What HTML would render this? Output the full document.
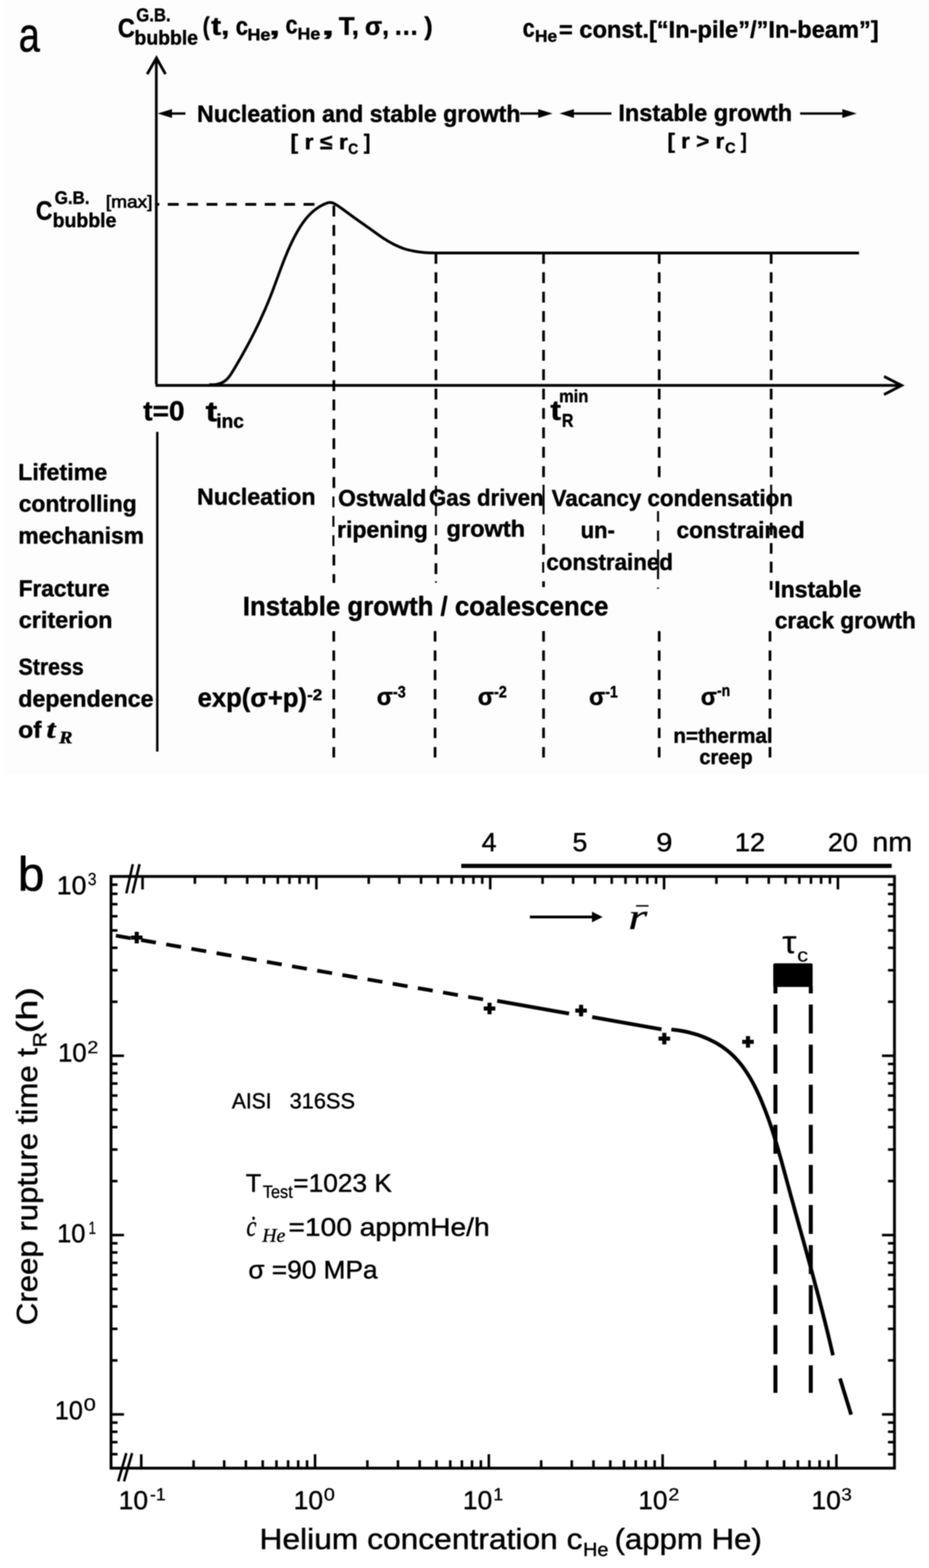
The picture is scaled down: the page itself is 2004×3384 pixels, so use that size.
<!DOCTYPE html>
<html lang="en">
<head>
<meta charset="utf-8">
<title>Helium bubble growth and creep rupture time</title>
<style>
html,body{margin:0;padding:0;background:#fff;}
body{width:2004px;height:3384px;overflow:hidden;}
svg{display:block;font-family:"Liberation Sans",sans-serif;}
text{white-space:pre;stroke:#000;stroke-width:0.9px;stroke-linejoin:round;}
text.n{stroke:none;}
</style>
</head>
<body>
<svg width="2004" height="3384" viewBox="0 0 2004 3384" text-rendering="geometricPrecision">
<rect width="2004" height="3384" fill="#fff"/>
<g id="fig" filter="url(#soft)">
<g id="panel-a">
<rect x="8" y="0" width="1996" height="1672" fill="#fdfdfd"/>
<g id="guides">
<line x1="337" y1="441" x2="700" y2="441" stroke="#000" stroke-width="5.8" stroke-dasharray="23.5 18.35" stroke-dashoffset="17.0"/>
<line x1="720.2" y1="443.7" x2="720.2" y2="467.2" stroke="#000" stroke-width="5.8"/>
<line x1="720.2" y1="485.6" x2="720.2" y2="509.1" stroke="#000" stroke-width="5.8"/>
<line x1="720.2" y1="527.4" x2="720.2" y2="550.9" stroke="#000" stroke-width="5.8"/>
<line x1="720.2" y1="569.2" x2="720.2" y2="592.8" stroke="#000" stroke-width="5.8"/>
<line x1="720.2" y1="611.1" x2="720.2" y2="634.6" stroke="#000" stroke-width="5.8"/>
<line x1="720.2" y1="653.0" x2="720.2" y2="676.5" stroke="#000" stroke-width="5.8"/>
<line x1="720.2" y1="694.8" x2="720.2" y2="718.3" stroke="#000" stroke-width="5.8"/>
<line x1="720.2" y1="736.6" x2="720.2" y2="760.1" stroke="#000" stroke-width="5.8"/>
<line x1="720.2" y1="778.5" x2="720.2" y2="802.0" stroke="#000" stroke-width="5.8"/>
<line x1="720.2" y1="820.4" x2="720.2" y2="843.9" stroke="#000" stroke-width="5.8"/>
<line x1="720.2" y1="862.2" x2="720.2" y2="885.7" stroke="#000" stroke-width="5.8"/>
<line x1="720.2" y1="904.0" x2="720.2" y2="927.5" stroke="#000" stroke-width="5.8"/>
<line x1="720.2" y1="945.9" x2="720.2" y2="969.4" stroke="#000" stroke-width="5.8"/>
<line x1="720.2" y1="987.8" x2="720.2" y2="1011.2" stroke="#000" stroke-width="5.8"/>
<line x1="720.2" y1="1029.6" x2="720.2" y2="1053.1" stroke="#000" stroke-width="5.8"/>
<line x1="940.4" y1="545.8" x2="940.4" y2="569.3" stroke="#000" stroke-width="5.8"/>
<line x1="940.4" y1="587.6" x2="940.4" y2="611.1" stroke="#000" stroke-width="5.8"/>
<line x1="940.4" y1="629.5" x2="940.4" y2="653.0" stroke="#000" stroke-width="5.8"/>
<line x1="940.4" y1="671.3" x2="940.4" y2="694.8" stroke="#000" stroke-width="5.8"/>
<line x1="940.4" y1="713.2" x2="940.4" y2="736.7" stroke="#000" stroke-width="5.8"/>
<line x1="940.4" y1="755.0" x2="940.4" y2="778.5" stroke="#000" stroke-width="5.8"/>
<line x1="940.4" y1="796.9" x2="940.4" y2="820.4" stroke="#000" stroke-width="5.8"/>
<line x1="940.4" y1="838.8" x2="940.4" y2="862.2" stroke="#000" stroke-width="5.8"/>
<line x1="940.4" y1="880.6" x2="940.4" y2="904.1" stroke="#000" stroke-width="5.8"/>
<line x1="940.4" y1="922.5" x2="940.4" y2="946.0" stroke="#000" stroke-width="5.8"/>
<line x1="940.4" y1="964.3" x2="940.4" y2="987.8" stroke="#000" stroke-width="5.8"/>
<line x1="940.4" y1="1006.1" x2="940.4" y2="1029.7" stroke="#000" stroke-width="5.8"/>
<line x1="1172.5" y1="545.8" x2="1172.5" y2="569.3" stroke="#000" stroke-width="5.8"/>
<line x1="1172.5" y1="587.6" x2="1172.5" y2="611.1" stroke="#000" stroke-width="5.8"/>
<line x1="1172.5" y1="629.5" x2="1172.5" y2="653.0" stroke="#000" stroke-width="5.8"/>
<line x1="1172.5" y1="671.3" x2="1172.5" y2="694.8" stroke="#000" stroke-width="5.8"/>
<line x1="1172.5" y1="713.2" x2="1172.5" y2="736.7" stroke="#000" stroke-width="5.8"/>
<line x1="1172.5" y1="755.0" x2="1172.5" y2="778.5" stroke="#000" stroke-width="5.8"/>
<line x1="1172.5" y1="796.9" x2="1172.5" y2="820.4" stroke="#000" stroke-width="5.8"/>
<line x1="1172.5" y1="838.8" x2="1172.5" y2="862.2" stroke="#000" stroke-width="5.8"/>
<line x1="1172.5" y1="880.6" x2="1172.5" y2="904.1" stroke="#000" stroke-width="5.8"/>
<line x1="1172.5" y1="922.5" x2="1172.5" y2="946.0" stroke="#000" stroke-width="5.8"/>
<line x1="1172.5" y1="964.3" x2="1172.5" y2="987.8" stroke="#000" stroke-width="5.8"/>
<line x1="1172.5" y1="1006.1" x2="1172.5" y2="1029.7" stroke="#000" stroke-width="5.8"/>
<line x1="1422" y1="545.8" x2="1422" y2="569.3" stroke="#000" stroke-width="5.8"/>
<line x1="1422" y1="587.6" x2="1422" y2="611.1" stroke="#000" stroke-width="5.8"/>
<line x1="1422" y1="629.5" x2="1422" y2="653.0" stroke="#000" stroke-width="5.8"/>
<line x1="1422" y1="671.3" x2="1422" y2="694.8" stroke="#000" stroke-width="5.8"/>
<line x1="1422" y1="713.2" x2="1422" y2="736.7" stroke="#000" stroke-width="5.8"/>
<line x1="1422" y1="755.0" x2="1422" y2="778.5" stroke="#000" stroke-width="5.8"/>
<line x1="1422" y1="796.9" x2="1422" y2="820.4" stroke="#000" stroke-width="5.8"/>
<line x1="1422" y1="838.8" x2="1422" y2="862.2" stroke="#000" stroke-width="5.8"/>
<line x1="1422" y1="880.6" x2="1422" y2="904.1" stroke="#000" stroke-width="5.8"/>
<line x1="1422" y1="922.5" x2="1422" y2="946.0" stroke="#000" stroke-width="5.8"/>
<line x1="1422" y1="964.3" x2="1422" y2="987.8" stroke="#000" stroke-width="5.8"/>
<line x1="1422" y1="1006.1" x2="1422" y2="1029.7" stroke="#000" stroke-width="5.8"/>
<line x1="1663.5" y1="545.8" x2="1663.5" y2="569.3" stroke="#000" stroke-width="5.8"/>
<line x1="1663.5" y1="587.6" x2="1663.5" y2="611.1" stroke="#000" stroke-width="5.8"/>
<line x1="1663.5" y1="629.5" x2="1663.5" y2="653.0" stroke="#000" stroke-width="5.8"/>
<line x1="1663.5" y1="671.3" x2="1663.5" y2="694.8" stroke="#000" stroke-width="5.8"/>
<line x1="1663.5" y1="713.2" x2="1663.5" y2="736.7" stroke="#000" stroke-width="5.8"/>
<line x1="1663.5" y1="755.0" x2="1663.5" y2="778.5" stroke="#000" stroke-width="5.8"/>
<line x1="1663.5" y1="796.9" x2="1663.5" y2="820.4" stroke="#000" stroke-width="5.8"/>
<line x1="1663.5" y1="838.8" x2="1663.5" y2="862.2" stroke="#000" stroke-width="5.8"/>
<line x1="1663.5" y1="880.6" x2="1663.5" y2="904.1" stroke="#000" stroke-width="5.8"/>
<line x1="1663.5" y1="922.5" x2="1663.5" y2="946.0" stroke="#000" stroke-width="5.8"/>
<line x1="1663.5" y1="964.3" x2="1663.5" y2="987.8" stroke="#000" stroke-width="5.8"/>
<line x1="1663.5" y1="1006.1" x2="1663.5" y2="1029.7" stroke="#000" stroke-width="5.8"/>
<line x1="719.2" y1="1071.4" x2="719.2" y2="1095" stroke="#000" stroke-width="4.4"/>
<line x1="719.2" y1="1113.3" x2="719.2" y2="1136.8" stroke="#000" stroke-width="4.4"/>
<line x1="719.2" y1="1155" x2="719.2" y2="1178.6" stroke="#000" stroke-width="4.4"/>
<line x1="720.2" y1="1197" x2="720.2" y2="1220.5" stroke="#000" stroke-width="5.8"/>
<line x1="720.2" y1="1239" x2="720.2" y2="1258" stroke="#000" stroke-width="5.8"/>
<line x1="940.4" y1="1048" x2="940.4" y2="1071.5" stroke="#000" stroke-width="4.4"/>
<line x1="940.4" y1="1090" x2="940.4" y2="1113.5" stroke="#000" stroke-width="4.4"/>
<line x1="940.4" y1="1131.8" x2="940.4" y2="1155.3" stroke="#000" stroke-width="4.4"/>
<line x1="940.4" y1="1173.6" x2="940.4" y2="1197" stroke="#000" stroke-width="5.8"/>
<line x1="940.4" y1="1215.5" x2="940.4" y2="1239" stroke="#000" stroke-width="5.8"/>
<line x1="940.4" y1="1254.5" x2="940.4" y2="1257.5" stroke="#000" stroke-width="4.4"/>
<line x1="1172.5" y1="1046" x2="1172.5" y2="1110" stroke="#000" stroke-width="4.4"/>
<line x1="1172.5" y1="1131.8" x2="1172.5" y2="1155.3" stroke="#000" stroke-width="4.4"/>
<line x1="1172.5" y1="1173.6" x2="1172.5" y2="1197" stroke="#000" stroke-width="5.8"/>
<line x1="1171.7" y1="1213" x2="1171.7" y2="1236" stroke="#000" stroke-width="4.4"/>
<line x1="1172.5" y1="1254.5" x2="1172.5" y2="1267" stroke="#000" stroke-width="5.8"/>
<line x1="1419.5" y1="1103" x2="1419.5" y2="1126" stroke="#000" stroke-width="4.4"/>
<line x1="1419.5" y1="1145" x2="1419.5" y2="1168" stroke="#000" stroke-width="4.4"/>
<line x1="1419.5" y1="1186" x2="1419.5" y2="1250" stroke="#000" stroke-width="4.4"/>
<line x1="1419.5" y1="1268" x2="1419.5" y2="1270.5" stroke="#000" stroke-width="4.4"/>
<line x1="1663.5" y1="1046" x2="1663.5" y2="1110" stroke="#000" stroke-width="4.4"/>
<line x1="1663.5" y1="1128" x2="1663.5" y2="1155" stroke="#000" stroke-width="5.8"/>
<line x1="1663.5" y1="1172" x2="1663.5" y2="1195" stroke="#000" stroke-width="5.8"/>
<line x1="1663.5" y1="1212" x2="1663.5" y2="1236" stroke="#000" stroke-width="5.8"/>
<line x1="1663.5" y1="1254" x2="1663.5" y2="1273" stroke="#000" stroke-width="5.8"/>
<line x1="720" y1="1362" x2="720" y2="1635" stroke="#000" stroke-width="5.8" stroke-dasharray="22.5 19.2"/>
<line x1="938.5" y1="1362" x2="938.5" y2="1635" stroke="#000" stroke-width="5.8" stroke-dasharray="22.5 19.2"/>
<line x1="1172.5" y1="1362" x2="1172.5" y2="1635" stroke="#000" stroke-width="5.8" stroke-dasharray="22.5 19.2"/>
<line x1="1422" y1="1362" x2="1422" y2="1635" stroke="#000" stroke-width="5.8" stroke-dasharray="22.5 19.2"/>
<line x1="1661" y1="1362" x2="1661" y2="1635" stroke="#000" stroke-width="5.8" stroke-dasharray="22.5 19.2"/>
</g>
<g id="axes-a">
<line x1="337.2" y1="127" x2="337.2" y2="829" stroke="#000" stroke-width="5.8"/>
<path d="M317.5 160 L337.5 125 L357 160" fill="none" stroke="#000" stroke-width="6" stroke-linejoin="miter"/>
<line x1="335.5" y1="831.8" x2="1944" y2="831.8" stroke="#000" stroke-width="6"/>
<path d="M1907 812.5 L1945 831.8 L1907 851.5" fill="none" stroke="#000" stroke-width="6" stroke-linejoin="miter"/>
<line x1="339.3" y1="932" x2="339.3" y2="1622" stroke="#000" stroke-width="5.2"/>
</g>
<path d="M451.5 830.2 C453.7 830.1 460.7 830.5 465.1 829.9 C469.4 829.3 473.8 828.2 477.6 826.6 C481.3 825.0 484.6 822.7 487.7 820.1 C490.7 817.5 493.2 814.3 495.7 811.1 C498.1 807.9 500.3 804.2 502.5 800.7 C504.7 797.2 506.7 793.5 508.9 789.9 C511.0 786.3 513.1 782.7 515.2 779.1 C517.3 775.5 519.4 771.8 521.4 768.2 C523.5 764.5 525.5 760.9 527.5 757.2 C529.5 753.6 531.5 749.9 533.5 746.2 C535.5 742.5 537.5 738.8 539.4 735.1 C541.3 731.4 543.3 727.7 545.2 724.0 C547.0 720.3 548.9 716.5 550.8 712.8 C552.6 709.0 554.5 705.3 556.3 701.5 C558.1 697.8 559.9 694.0 561.6 690.2 C563.4 686.4 565.1 682.6 566.8 678.8 C568.5 675.0 570.2 671.2 571.9 667.4 C573.5 663.6 575.2 659.7 576.8 655.9 C578.4 652.1 579.9 648.2 581.5 644.3 C583.0 640.5 584.6 636.6 586.1 632.7 C587.6 628.9 589.0 625.0 590.5 621.1 C591.9 617.2 593.4 613.3 594.8 609.4 C596.2 605.5 597.7 601.6 599.1 597.7 C600.5 593.8 602.0 589.9 603.4 586.0 C604.8 582.1 606.3 578.2 607.8 574.3 C609.2 570.4 610.7 566.5 612.2 562.6 C613.8 558.8 615.3 554.9 616.9 551.1 C618.5 547.2 620.1 543.4 621.7 539.5 C623.4 535.7 625.1 531.9 626.9 528.1 C628.6 524.4 630.4 520.6 632.3 516.8 C634.2 513.1 636.1 509.4 638.1 505.7 C640.1 502.0 642.2 498.3 644.4 494.7 C646.5 491.1 648.8 487.5 651.1 484.1 C653.5 480.6 655.9 477.2 658.5 473.9 C661.1 470.7 663.8 467.5 666.6 464.5 C669.5 461.5 672.4 458.7 675.5 456.0 C678.7 453.3 681.9 450.8 685.4 448.5 C688.8 446.2 692.4 444.1 696.2 442.3 C700.0 440.4 705.0 438.3 708.1 437.4 C711.2 436.6 712.9 437.0 715.0 437.3 C717.1 437.6 718.0 437.9 721.0 439.5 C724.0 441.1 725.5 441.8 733.0 447.0 C740.5 452.2 754.5 462.8 766.0 471.0 C777.5 479.2 791.8 489.2 802.0 496.5 C812.2 503.8 819.7 509.5 827.5 514.6 C835.3 519.7 841.8 523.4 849.0 527.0 C856.2 530.6 863.7 534.0 871.0 536.5 C878.3 539.0 885.7 540.6 893.0 542.0 C900.3 543.4 907.2 544.3 915.0 545.0 C922.8 545.7 935.8 545.8 940.0 546.0 L1853 546" fill="none" stroke="#000" stroke-width="6" stroke-linejoin="round"/>
<line x1="400" y1="245" x2="361.7" y2="245" stroke="#000" stroke-width="5"/>
<polygon points="340,245 371,235.5 371,254.5" fill="#000"/>
<line x1="1122" y1="245" x2="1170.3" y2="245" stroke="#000" stroke-width="5"/>
<polygon points="1192,245 1161,235.5 1161,254.5" fill="#000"/>
<line x1="1319" y1="245" x2="1228.7" y2="245" stroke="#000" stroke-width="5"/>
<polygon points="1207,245 1238,235.5 1238,254.5" fill="#000"/>
<line x1="1726" y1="245" x2="1826.3" y2="245" stroke="#000" stroke-width="5"/>
<polygon points="1848,245 1817,235.5 1817,254.5" fill="#000"/>
<g id="text-a">
<text transform="translate(40.50 111.00) scale(0.7840 1.0000)" font-size="104.16" style="stroke-width:1.2px">a</text>
<text transform="translate(254.37 80.00) scale(0.8912 1.0000)" font-size="57" font-weight="bold">C</text>
<text transform="translate(293.96 46.00) scale(0.9014 1.0000)" font-size="40" font-weight="bold">G.B.</text>
<text transform="translate(290.12 95.50) scale(0.9714 1.0000)" font-size="43" font-weight="bold">bubble</text>
<text transform="translate(437.14 75.00) scale(0.8240 1.0000)" font-size="55" font-weight="bold">(</text>
<text transform="translate(455.54 75.00) scale(1.1729 1.0000)" font-size="55" font-weight="bold">t,</text>
<text transform="translate(508.50 75.00) scale(0.8664 1.0000)" font-size="55" font-weight="bold">c</text>
<text transform="translate(533.82 87.00) scale(1.0756 1.0000)" font-size="36" font-weight="bold">He</text>
<text transform="translate(580.31 75.00) scale(1.5831 1.0000)" font-size="55" font-weight="bold">,</text>
<text transform="translate(616.04 72.00) scale(0.8477 1.0000)" font-size="55" font-weight="bold">c</text>
<text transform="translate(641.85 84.50) scale(1.0638 1.0000)" font-size="36" font-weight="bold">He</text>
<text transform="translate(693.31 75.00) scale(1.8429 1.0000)" font-size="55" font-weight="bold">,</text>
<text transform="translate(730.85 75.00) scale(1.0179 1.0000)" font-size="55" font-weight="bold">T,</text>
<text transform="translate(787.24 75.00) scale(0.9842 1.0000)" font-size="55" font-weight="bold">σ,</text>
<text transform="translate(849.50 75.00) scale(0.9760 1.0000)" font-size="55" font-weight="bold">…</text>
<text transform="translate(915.22 75.00) scale(0.9864 1.0000)" font-size="55" font-weight="bold">)</text>
<text transform="translate(1127.54 78.50) scale(0.8477 1.0000)" font-size="55" font-weight="bold">c</text>
<text transform="translate(1153.91 89.50) scale(1.0403 1.0000)" font-size="36" font-weight="bold">He</text>
<text transform="translate(1205.87 81.00) scale(0.9994 1.0000)" font-size="51" font-weight="bold">= const.[“In-pile”/”In-beam”]</text>
<text transform="translate(425.07 262.50) scale(0.9809 1.0000)" font-size="51" font-weight="bold">Nucleation and stable growth</text>
<text transform="translate(1334.02 260.50) scale(0.9944 1.0000)" font-size="51" font-weight="bold">Instable growth</text>
<text transform="translate(626.59 322.00) scale(1.0797 1.0000)" font-size="46" font-weight="bold">[ r ≤ r</text>
<text transform="translate(751.23 332.00) scale(0.9179 1.0000)" font-size="32" font-weight="bold">C</text>
<text transform="translate(784.84 322.00) scale(0.9238 1.0000)" font-size="46" font-weight="bold">]</text>
<text transform="translate(1439.66 320.00) scale(1.0547 1.0000)" font-size="46" font-weight="bold">[ r &gt; r</text>
<text transform="translate(1564.17 330.00) scale(0.9657 1.0000)" font-size="32" font-weight="bold">C</text>
<text transform="translate(1597.89 320.00) scale(0.8412 1.0000)" font-size="46" font-weight="bold">]</text>
<text transform="translate(77.43 474.00) scale(0.8644 1.0000)" font-size="57" font-weight="bold">C</text>
<text transform="translate(117.94 440.00) scale(0.9377 1.0000)" font-size="39" font-weight="bold">G.B.</text>
<text transform="translate(113.61 490.00) scale(0.9751 1.0000)" font-size="43" font-weight="bold">bubble</text>
<text transform="translate(228.25 448.00) scale(1.1117 1.0000)" font-size="37" style="stroke-width:1.4px">[max]</text>
<text transform="translate(309.10 906.50) scale(1.0228 1.0000)" font-size="59" font-weight="bold">t=0</text>
<text transform="translate(443.40 909.00) scale(1.2397 1.0000)" font-size="61" font-weight="bold">t</text>
<text transform="translate(466.51 922.50) scale(0.9846 1.0000)" font-size="42" font-weight="bold">inc</text>
<text transform="translate(1187.19 906.00) scale(1.1462 1.0000)" font-size="60" font-weight="bold">t</text>
<text transform="translate(1206.04 867.50) scale(0.9344 1.0000)" font-size="38" font-weight="bold">min</text>
<text transform="translate(1212.10 921.00) scale(0.8641 1.0000)" font-size="40" font-weight="bold">R</text>
<text transform="translate(39.06 1036.00) scale(1.0028 1.0000)" font-size="50" font-weight="bold">Lifetime</text>
<text transform="translate(40.44 1104.00) scale(0.9849 1.0000)" font-size="50" font-weight="bold">controlling</text>
<text transform="translate(39.62 1173.00) scale(0.9852 1.0000)" font-size="50" font-weight="bold">mechanism</text>
<text transform="translate(40.14 1287.00) scale(0.9796 1.0000)" font-size="50" font-weight="bold">Fracture</text>
<text transform="translate(40.38 1355.00) scale(1.0112 1.0000)" font-size="50" font-weight="bold">criterion</text>
<text transform="translate(40.03 1456.00) scale(0.9187 1.0000)" font-size="50" font-weight="bold">Stress</text>
<text transform="translate(39.40 1525.00) scale(1.0001 1.0000)" font-size="50" font-weight="bold">dependence</text>
<text transform="translate(39.28 1592.00) scale(1.0630 1.0000)" font-size="50" font-weight="bold">of</text>
<text transform="translate(100.30 1592.00) scale(1.2537 1.0000)" font-size="56" font-weight="bold" font-style="italic" font-family='"Liberation Serif", serif'>t</text>
<text transform="translate(127.41 1604.00) scale(1.1358 1.0000)" font-size="38" font-weight="bold" font-style="italic" font-family='"Liberation Serif", serif'>R</text>
<text transform="translate(425.07 1089.00) scale(1.0001 1.0000)" font-size="50" font-weight="bold">Nucleation</text>
<text transform="translate(729.45 1092.00) scale(0.9781 1.0000)" font-size="50" font-weight="bold">Ostwald</text>
<text transform="translate(727.09 1160.00) scale(0.9931 1.0000)" font-size="50" font-weight="bold">ripening</text>
<text transform="translate(925.49 1091.00) scale(0.9560 1.0000)" font-size="50" font-weight="bold">Gas driven</text>
<text transform="translate(963.37 1158.00) scale(1.0156 1.0000)" font-size="50" font-weight="bold">growth</text>
<text transform="translate(1190.08 1092.00) scale(0.9655 1.0000)" font-size="50" font-weight="bold">Vacancy condensation</text>
<text transform="translate(1252.39 1161.00) scale(0.9522 1.0000)" font-size="50" font-weight="bold">un-</text>
<text transform="translate(1178.48 1230.00) scale(0.9641 1.0000)" font-size="50" font-weight="bold">constrained</text>
<text transform="translate(1459.46 1161.00) scale(0.9749 1.0000)" font-size="50" font-weight="bold">constrained</text>
<text transform="translate(1670.09 1289.00) scale(0.9956 1.0000)" font-size="50" font-weight="bold">Instable</text>
<text transform="translate(1671.45 1356.00) scale(0.9772 1.0000)" font-size="50" font-weight="bold">crack growth</text>
<text transform="translate(523.69 1328.00) scale(0.9595 1.0000)" font-size="58" font-weight="bold">Instable growth / coalescence</text>
<text transform="translate(426.19 1525.00) scale(0.9703 1.0000)" font-size="57" font-weight="bold">exp(σ+p)</text>
<text transform="translate(662.44 1510.50) scale(1.0844 1.0000)" font-size="33.8" font-weight="bold">-2</text>
<text transform="translate(812.87 1521.00) scale(0.9777 1.0000)" font-size="52" font-weight="bold">σ</text>
<text transform="translate(847.67 1505.00) scale(0.8789 1.0000)" font-size="35.24" font-weight="bold">-3</text>
<text transform="translate(1030.87 1521.00) scale(0.9777 1.0000)" font-size="52" font-weight="bold">σ</text>
<text transform="translate(1065.66 1505.00) scale(0.8825 1.0000)" font-size="35.24" font-weight="bold">-2</text>
<text transform="translate(1270.87 1521.00) scale(0.9777 1.0000)" font-size="52" font-weight="bold">σ</text>
<text transform="translate(1305.68 1505.00) scale(0.8558 1.0000)" font-size="35.75" font-weight="bold">-1</text>
<text transform="translate(1511.87 1521.00) scale(0.9777 1.0000)" font-size="52" font-weight="bold">σ</text>
<text transform="translate(1546.71 1501.50) scale(0.8466 1.0000)" font-size="35.28" font-weight="bold">-n</text>
<text transform="translate(1452.43 1602.50) scale(0.9907 1.0000)" font-size="45" font-weight="bold">n=thermal</text>
<text transform="translate(1508.69 1648.50) scale(0.9552 1.0000)" font-size="45" font-weight="bold">creep</text>
</g>
</g>
<g id="panel-b">
<g id="frame">
<rect x="239.5" y="1891.5" width="1690.0" height="1277.0" fill="none" stroke="#000" stroke-width="6.1"/>
<line x1="307.5" y1="1891.5" x2="307.5" y2="1919.5" stroke="#000" stroke-width="5.5"/>
<line x1="304.7" y1="3168.5" x2="304.7" y2="3138.5" stroke="#000" stroke-width="5.5"/>
<line x1="420.4" y1="1891.5" x2="420.4" y2="1907.5" stroke="#000" stroke-width="5.5"/>
<line x1="417.6" y1="3168.5" x2="417.6" y2="3151.5" stroke="#000" stroke-width="5.5"/>
<line x1="486.4" y1="1891.5" x2="486.4" y2="1907.5" stroke="#000" stroke-width="5.5"/>
<line x1="483.6" y1="3168.5" x2="483.6" y2="3151.5" stroke="#000" stroke-width="5.5"/>
<line x1="533.3" y1="1891.5" x2="533.3" y2="1907.5" stroke="#000" stroke-width="5.5"/>
<line x1="530.4" y1="3168.5" x2="530.4" y2="3151.5" stroke="#000" stroke-width="5.5"/>
<line x1="569.6" y1="1891.5" x2="569.6" y2="1907.5" stroke="#000" stroke-width="5.5"/>
<line x1="566.7" y1="3168.5" x2="566.7" y2="3151.5" stroke="#000" stroke-width="5.5"/>
<line x1="599.3" y1="1891.5" x2="599.3" y2="1907.5" stroke="#000" stroke-width="5.5"/>
<line x1="596.4" y1="3168.5" x2="596.4" y2="3151.5" stroke="#000" stroke-width="5.5"/>
<line x1="624.4" y1="1891.5" x2="624.4" y2="1907.5" stroke="#000" stroke-width="5.5"/>
<line x1="621.5" y1="3168.5" x2="621.5" y2="3151.5" stroke="#000" stroke-width="5.5"/>
<line x1="646.2" y1="1891.5" x2="646.2" y2="1907.5" stroke="#000" stroke-width="5.5"/>
<line x1="643.3" y1="3168.5" x2="643.3" y2="3151.5" stroke="#000" stroke-width="5.5"/>
<line x1="665.3" y1="1891.5" x2="665.3" y2="1907.5" stroke="#000" stroke-width="5.5"/>
<line x1="662.4" y1="3168.5" x2="662.4" y2="3151.5" stroke="#000" stroke-width="5.5"/>
<line x1="682.5" y1="1891.5" x2="682.5" y2="1919.5" stroke="#000" stroke-width="5.5"/>
<line x1="679.6" y1="3168.5" x2="679.6" y2="3138.5" stroke="#000" stroke-width="5.5"/>
<line x1="795.4" y1="1891.5" x2="795.4" y2="1907.5" stroke="#000" stroke-width="5.5"/>
<line x1="792.5" y1="3168.5" x2="792.5" y2="3151.5" stroke="#000" stroke-width="5.5"/>
<line x1="861.4" y1="1891.5" x2="861.4" y2="1907.5" stroke="#000" stroke-width="5.5"/>
<line x1="858.5" y1="3168.5" x2="858.5" y2="3151.5" stroke="#000" stroke-width="5.5"/>
<line x1="908.3" y1="1891.5" x2="908.3" y2="1907.5" stroke="#000" stroke-width="5.5"/>
<line x1="905.3" y1="3168.5" x2="905.3" y2="3151.5" stroke="#000" stroke-width="5.5"/>
<line x1="944.6" y1="1891.5" x2="944.6" y2="1907.5" stroke="#000" stroke-width="5.5"/>
<line x1="941.6" y1="3168.5" x2="941.6" y2="3151.5" stroke="#000" stroke-width="5.5"/>
<line x1="974.3" y1="1891.5" x2="974.3" y2="1907.5" stroke="#000" stroke-width="5.5"/>
<line x1="971.3" y1="3168.5" x2="971.3" y2="3151.5" stroke="#000" stroke-width="5.5"/>
<line x1="999.4" y1="1891.5" x2="999.4" y2="1907.5" stroke="#000" stroke-width="5.5"/>
<line x1="996.4" y1="3168.5" x2="996.4" y2="3151.5" stroke="#000" stroke-width="5.5"/>
<line x1="1021.2" y1="1891.5" x2="1021.2" y2="1907.5" stroke="#000" stroke-width="5.5"/>
<line x1="1018.2" y1="3168.5" x2="1018.2" y2="3151.5" stroke="#000" stroke-width="5.5"/>
<line x1="1040.3" y1="1891.5" x2="1040.3" y2="1907.5" stroke="#000" stroke-width="5.5"/>
<line x1="1037.3" y1="3168.5" x2="1037.3" y2="3151.5" stroke="#000" stroke-width="5.5"/>
<line x1="1057.5" y1="1891.5" x2="1057.5" y2="1919.5" stroke="#000" stroke-width="5.5"/>
<line x1="1054.5" y1="3168.5" x2="1054.5" y2="3138.5" stroke="#000" stroke-width="5.5"/>
<line x1="1170.4" y1="1891.5" x2="1170.4" y2="1907.5" stroke="#000" stroke-width="5.5"/>
<line x1="1167.4" y1="3168.5" x2="1167.4" y2="3151.5" stroke="#000" stroke-width="5.5"/>
<line x1="1236.4" y1="1891.5" x2="1236.4" y2="1907.5" stroke="#000" stroke-width="5.5"/>
<line x1="1233.4" y1="3168.5" x2="1233.4" y2="3151.5" stroke="#000" stroke-width="5.5"/>
<line x1="1283.3" y1="1891.5" x2="1283.3" y2="1907.5" stroke="#000" stroke-width="5.5"/>
<line x1="1280.2" y1="3168.5" x2="1280.2" y2="3151.5" stroke="#000" stroke-width="5.5"/>
<line x1="1319.6" y1="1891.5" x2="1319.6" y2="1907.5" stroke="#000" stroke-width="5.5"/>
<line x1="1316.5" y1="3168.5" x2="1316.5" y2="3151.5" stroke="#000" stroke-width="5.5"/>
<line x1="1349.3" y1="1891.5" x2="1349.3" y2="1907.5" stroke="#000" stroke-width="5.5"/>
<line x1="1346.2" y1="3168.5" x2="1346.2" y2="3151.5" stroke="#000" stroke-width="5.5"/>
<line x1="1374.4" y1="1891.5" x2="1374.4" y2="1907.5" stroke="#000" stroke-width="5.5"/>
<line x1="1371.3" y1="3168.5" x2="1371.3" y2="3151.5" stroke="#000" stroke-width="5.5"/>
<line x1="1396.2" y1="1891.5" x2="1396.2" y2="1907.5" stroke="#000" stroke-width="5.5"/>
<line x1="1393.1" y1="3168.5" x2="1393.1" y2="3151.5" stroke="#000" stroke-width="5.5"/>
<line x1="1415.3" y1="1891.5" x2="1415.3" y2="1907.5" stroke="#000" stroke-width="5.5"/>
<line x1="1412.2" y1="3168.5" x2="1412.2" y2="3151.5" stroke="#000" stroke-width="5.5"/>
<line x1="1432.5" y1="1891.5" x2="1432.5" y2="1919.5" stroke="#000" stroke-width="5.5"/>
<line x1="1429.4" y1="3168.5" x2="1429.4" y2="3138.5" stroke="#000" stroke-width="5.5"/>
<line x1="1545.4" y1="1891.5" x2="1545.4" y2="1907.5" stroke="#000" stroke-width="5.5"/>
<line x1="1542.3" y1="3168.5" x2="1542.3" y2="3151.5" stroke="#000" stroke-width="5.5"/>
<line x1="1611.4" y1="1891.5" x2="1611.4" y2="1907.5" stroke="#000" stroke-width="5.5"/>
<line x1="1608.3" y1="3168.5" x2="1608.3" y2="3151.5" stroke="#000" stroke-width="5.5"/>
<line x1="1658.3" y1="1891.5" x2="1658.3" y2="1907.5" stroke="#000" stroke-width="5.5"/>
<line x1="1655.1" y1="3168.5" x2="1655.1" y2="3151.5" stroke="#000" stroke-width="5.5"/>
<line x1="1694.6" y1="1891.5" x2="1694.6" y2="1907.5" stroke="#000" stroke-width="5.5"/>
<line x1="1691.4" y1="3168.5" x2="1691.4" y2="3151.5" stroke="#000" stroke-width="5.5"/>
<line x1="1724.3" y1="1891.5" x2="1724.3" y2="1907.5" stroke="#000" stroke-width="5.5"/>
<line x1="1721.1" y1="3168.5" x2="1721.1" y2="3151.5" stroke="#000" stroke-width="5.5"/>
<line x1="1749.4" y1="1891.5" x2="1749.4" y2="1907.5" stroke="#000" stroke-width="5.5"/>
<line x1="1746.2" y1="3168.5" x2="1746.2" y2="3151.5" stroke="#000" stroke-width="5.5"/>
<line x1="1771.2" y1="1891.5" x2="1771.2" y2="1907.5" stroke="#000" stroke-width="5.5"/>
<line x1="1768.0" y1="3168.5" x2="1768.0" y2="3151.5" stroke="#000" stroke-width="5.5"/>
<line x1="1790.3" y1="1891.5" x2="1790.3" y2="1907.5" stroke="#000" stroke-width="5.5"/>
<line x1="1787.1" y1="3168.5" x2="1787.1" y2="3151.5" stroke="#000" stroke-width="5.5"/>
<line x1="1807.5" y1="1891.5" x2="1807.5" y2="1919.5" stroke="#000" stroke-width="5.5"/>
<line x1="1804.3" y1="3168.5" x2="1804.3" y2="3138.5" stroke="#000" stroke-width="5.5"/>
<line x1="239.5" y1="3052.5" x2="267.5" y2="3052.5" stroke="#000" stroke-width="5.5"/>
<line x1="1929.5" y1="3052.5" x2="1902.5" y2="3052.5" stroke="#000" stroke-width="5.5"/>
<line x1="239.5" y1="3138.4" x2="253.5" y2="3138.4" stroke="#000" stroke-width="5.5"/>
<line x1="1929.5" y1="3138.4" x2="1915.5" y2="3138.4" stroke="#000" stroke-width="5.5"/>
<line x1="239.5" y1="3112.4" x2="253.5" y2="3112.4" stroke="#000" stroke-width="5.5"/>
<line x1="1929.5" y1="3112.4" x2="1915.5" y2="3112.4" stroke="#000" stroke-width="5.5"/>
<line x1="239.5" y1="3090.0" x2="253.5" y2="3090.0" stroke="#000" stroke-width="5.5"/>
<line x1="1929.5" y1="3090.0" x2="1915.5" y2="3090.0" stroke="#000" stroke-width="5.5"/>
<line x1="239.5" y1="3070.2" x2="253.5" y2="3070.2" stroke="#000" stroke-width="5.5"/>
<line x1="1929.5" y1="3070.2" x2="1915.5" y2="3070.2" stroke="#000" stroke-width="5.5"/>
<line x1="239.5" y1="2665.5" x2="267.5" y2="2665.5" stroke="#000" stroke-width="5.5"/>
<line x1="1929.5" y1="2665.5" x2="1902.5" y2="2665.5" stroke="#000" stroke-width="5.5"/>
<line x1="239.5" y1="2936.0" x2="253.5" y2="2936.0" stroke="#000" stroke-width="5.5"/>
<line x1="1929.5" y1="2936.0" x2="1915.5" y2="2936.0" stroke="#000" stroke-width="5.5"/>
<line x1="239.5" y1="2867.9" x2="253.5" y2="2867.9" stroke="#000" stroke-width="5.5"/>
<line x1="1929.5" y1="2867.9" x2="1915.5" y2="2867.9" stroke="#000" stroke-width="5.5"/>
<line x1="239.5" y1="2819.5" x2="253.5" y2="2819.5" stroke="#000" stroke-width="5.5"/>
<line x1="1929.5" y1="2819.5" x2="1915.5" y2="2819.5" stroke="#000" stroke-width="5.5"/>
<line x1="239.5" y1="2782.0" x2="253.5" y2="2782.0" stroke="#000" stroke-width="5.5"/>
<line x1="1929.5" y1="2782.0" x2="1915.5" y2="2782.0" stroke="#000" stroke-width="5.5"/>
<line x1="239.5" y1="2751.4" x2="253.5" y2="2751.4" stroke="#000" stroke-width="5.5"/>
<line x1="1929.5" y1="2751.4" x2="1915.5" y2="2751.4" stroke="#000" stroke-width="5.5"/>
<line x1="239.5" y1="2725.4" x2="253.5" y2="2725.4" stroke="#000" stroke-width="5.5"/>
<line x1="1929.5" y1="2725.4" x2="1915.5" y2="2725.4" stroke="#000" stroke-width="5.5"/>
<line x1="239.5" y1="2703.0" x2="253.5" y2="2703.0" stroke="#000" stroke-width="5.5"/>
<line x1="1929.5" y1="2703.0" x2="1915.5" y2="2703.0" stroke="#000" stroke-width="5.5"/>
<line x1="239.5" y1="2683.2" x2="253.5" y2="2683.2" stroke="#000" stroke-width="5.5"/>
<line x1="1929.5" y1="2683.2" x2="1915.5" y2="2683.2" stroke="#000" stroke-width="5.5"/>
<line x1="239.5" y1="2278.5" x2="267.5" y2="2278.5" stroke="#000" stroke-width="5.5"/>
<line x1="1929.5" y1="2278.5" x2="1902.5" y2="2278.5" stroke="#000" stroke-width="5.5"/>
<line x1="239.5" y1="2549.0" x2="253.5" y2="2549.0" stroke="#000" stroke-width="5.5"/>
<line x1="1929.5" y1="2549.0" x2="1915.5" y2="2549.0" stroke="#000" stroke-width="5.5"/>
<line x1="239.5" y1="2480.9" x2="253.5" y2="2480.9" stroke="#000" stroke-width="5.5"/>
<line x1="1929.5" y1="2480.9" x2="1915.5" y2="2480.9" stroke="#000" stroke-width="5.5"/>
<line x1="239.5" y1="2432.5" x2="253.5" y2="2432.5" stroke="#000" stroke-width="5.5"/>
<line x1="1929.5" y1="2432.5" x2="1915.5" y2="2432.5" stroke="#000" stroke-width="5.5"/>
<line x1="239.5" y1="2395.0" x2="253.5" y2="2395.0" stroke="#000" stroke-width="5.5"/>
<line x1="1929.5" y1="2395.0" x2="1915.5" y2="2395.0" stroke="#000" stroke-width="5.5"/>
<line x1="239.5" y1="2364.4" x2="253.5" y2="2364.4" stroke="#000" stroke-width="5.5"/>
<line x1="1929.5" y1="2364.4" x2="1915.5" y2="2364.4" stroke="#000" stroke-width="5.5"/>
<line x1="239.5" y1="2338.4" x2="253.5" y2="2338.4" stroke="#000" stroke-width="5.5"/>
<line x1="1929.5" y1="2338.4" x2="1915.5" y2="2338.4" stroke="#000" stroke-width="5.5"/>
<line x1="239.5" y1="2316.0" x2="253.5" y2="2316.0" stroke="#000" stroke-width="5.5"/>
<line x1="1929.5" y1="2316.0" x2="1915.5" y2="2316.0" stroke="#000" stroke-width="5.5"/>
<line x1="239.5" y1="2296.2" x2="253.5" y2="2296.2" stroke="#000" stroke-width="5.5"/>
<line x1="1929.5" y1="2296.2" x2="1915.5" y2="2296.2" stroke="#000" stroke-width="5.5"/>
<line x1="239.5" y1="2162.0" x2="253.5" y2="2162.0" stroke="#000" stroke-width="5.5"/>
<line x1="1929.5" y1="2162.0" x2="1915.5" y2="2162.0" stroke="#000" stroke-width="5.5"/>
<line x1="239.5" y1="2093.9" x2="253.5" y2="2093.9" stroke="#000" stroke-width="5.5"/>
<line x1="1929.5" y1="2093.9" x2="1915.5" y2="2093.9" stroke="#000" stroke-width="5.5"/>
<line x1="239.5" y1="2045.5" x2="253.5" y2="2045.5" stroke="#000" stroke-width="5.5"/>
<line x1="1929.5" y1="2045.5" x2="1915.5" y2="2045.5" stroke="#000" stroke-width="5.5"/>
<line x1="239.5" y1="2008.0" x2="253.5" y2="2008.0" stroke="#000" stroke-width="5.5"/>
<line x1="1929.5" y1="2008.0" x2="1915.5" y2="2008.0" stroke="#000" stroke-width="5.5"/>
<line x1="239.5" y1="1977.4" x2="253.5" y2="1977.4" stroke="#000" stroke-width="5.5"/>
<line x1="1929.5" y1="1977.4" x2="1915.5" y2="1977.4" stroke="#000" stroke-width="5.5"/>
<line x1="239.5" y1="1951.4" x2="253.5" y2="1951.4" stroke="#000" stroke-width="5.5"/>
<line x1="1929.5" y1="1951.4" x2="1915.5" y2="1951.4" stroke="#000" stroke-width="5.5"/>
<line x1="239.5" y1="1929.0" x2="253.5" y2="1929.0" stroke="#000" stroke-width="5.5"/>
<line x1="1929.5" y1="1929.0" x2="1915.5" y2="1929.0" stroke="#000" stroke-width="5.5"/>
<line x1="239.5" y1="1909.2" x2="253.5" y2="1909.2" stroke="#000" stroke-width="5.5"/>
<line x1="1929.5" y1="1909.2" x2="1915.5" y2="1909.2" stroke="#000" stroke-width="5.5"/>
<line x1="272.5" y1="1928" x2="286.5" y2="1865" stroke="#000" stroke-width="5.4"/>
<line x1="286" y1="1928" x2="301" y2="1865" stroke="#000" stroke-width="5.4"/>
<line x1="255" y1="3197" x2="272.5" y2="3136" stroke="#000" stroke-width="5.4"/>
<line x1="267.5" y1="3197" x2="285" y2="3136" stroke="#000" stroke-width="5.4"/>
</g>
<line x1="995" y1="1868.7" x2="1923.5" y2="1868.7" stroke="#000" stroke-width="9"/>
<text transform="translate(1039.05 1836.50) scale(1.0198 1.0000)" font-size="56.87">4</text>
<text transform="translate(1235.11 1836.50) scale(1.0101 1.0000)" font-size="56.87">5</text>
<text transform="translate(1415.46 1836.50) scale(1.1240 1.0000)" font-size="56.05">9</text>
<text transform="translate(1584.88 1836.50) scale(1.0522 1.0000)" font-size="56.05">12</text>
<text transform="translate(1786.01 1836.50) scale(1.0319 1.0000)" font-size="56.05">20</text>
<text transform="translate(1881.78 1836.50) scale(1.0659 1.0000)" font-size="58">nm</text>
<text transform="translate(122.51 1929.50) scale(1.0238 1.0000)" font-size="56.05">10</text>
<text transform="translate(189.54 1909.50) scale(0.8903 1.0000)" font-size="37.61" style="stroke-width:0.6px">3</text>
<text transform="translate(125.16 2291.00) scale(0.9879 1.0000)" font-size="56.05">10</text>
<text transform="translate(188.14 2273.00) scale(1.1330 1.0000)" font-size="37.61" style="stroke-width:0.6px">2</text>
<text transform="translate(123.20 2681.00) scale(0.9790 1.0000)" font-size="56.05">10</text>
<text transform="translate(191.05 2662.50) scale(0.7593 1.0000)" font-size="38.16" style="stroke-width:0.6px">1</text>
<text transform="translate(118.24 3062.50) scale(0.9700 1.0000)" font-size="56.05">10</text>
<text transform="translate(180.39 3044.00) scale(1.2528 1.0000)" font-size="37.61" style="stroke-width:0.6px">0</text>
<text transform="translate(256.04 3256.50) scale(1.0148 1.0000)" font-size="56.05">10</text>
<text transform="translate(323.61 3238.00) scale(1.0019 1.0000)" font-size="38.16" style="stroke-width:0.6px">-1</text>
<text transform="translate(633.54 3256.50) scale(1.0148 1.0000)" font-size="56.05">10</text>
<text transform="translate(698.55 3238.00) scale(1.1413 1.0000)" font-size="37.61" style="stroke-width:0.6px">0</text>
<text transform="translate(998.54 3256.50) scale(1.0148 1.0000)" font-size="56.05">10</text>
<text transform="translate(1064.34 3238.00) scale(1.0031 1.0000)" font-size="38.16" style="stroke-width:0.6px">1</text>
<text transform="translate(1377.08 3256.50) scale(1.0059 1.0000)" font-size="56.05">10</text>
<text transform="translate(1441.64 3238.00) scale(1.1330 1.0000)" font-size="37.61" style="stroke-width:0.6px">2</text>
<text transform="translate(1750.54 3256.50) scale(1.0148 1.0000)" font-size="56.05">10</text>
<text transform="translate(1814.77 3238.00) scale(1.0855 1.0000)" font-size="37.61" style="stroke-width:0.6px">3</text>
<text transform="translate(559.70 3342.50) scale(1.0874 1.0000)" font-size="63">Helium concentration c</text>
<text transform="translate(1257.85 3358.00) scale(1.0403 1.0000)" font-size="41">He</text>
<text transform="translate(1325.64 3342.50) scale(1.0677 1.0000)" font-size="63">(appm He)</text>
<text transform="translate(80 2857) rotate(-90) translate(-2.96 0.00) scale(1.0677 1.0000)" font-size="63">Creep rupture time t</text>
<text transform="translate(80 2857) rotate(-90) translate(596.59 20.00) scale(1.1177 1.0000)" font-size="41">R</text>
<text transform="translate(80 2857) rotate(-90) translate(627.25 0.00) scale(1.2909 1.0000)" font-size="63">(h)</text>
<text transform="translate(38.51 1921.50) scale(0.9962 1.0000)" font-size="103.55" style="stroke-width:1.2px">b</text>
<text transform="translate(500.25 2392.00) scale(0.9615 1.0000)" font-size="47">AISI</text>
<text transform="translate(624.68 2392.00) scale(0.9996 1.0000)" font-size="47">316SS</text>
<text transform="translate(530.13 2571.50) scale(0.9905 1.0000)" font-size="55">T</text>
<text transform="translate(567.00 2585.00) scale(0.9247 1.0000)" font-size="38" style="stroke-width:0.7px">Test</text>
<text transform="translate(632.57 2571.50) scale(1.0307 1.0000)" font-size="55">=1023 K</text>
<text transform="translate(531.44 2666.50) scale(0.7874 1.0000)" font-size="62" font-style="italic" font-family='"Liberation Serif", serif'>ċ</text>
<text transform="translate(565.74 2679.50) scale(1.0163 1.0000)" font-size="42" font-style="italic" font-family='"Liberation Serif", serif' style="stroke-width:0.7px">He</text>
<text transform="translate(622.37 2667.00) scale(1.1041 1.0000)" font-size="55">=100 appmHe/h</text>
<text transform="translate(535.64 2759.00) scale(1.0295 1.0000)" font-size="55">σ =90 MPa</text>
<line x1="1143" y1="1979" x2="1280" y2="1979" stroke="#000" stroke-width="6"/>
<polygon points="1300,1979 1277,1967.5 1277,1990.5" fill="#000"/>
<text transform="translate(1354.97 2005.00) scale(1.3408 1.0000)" font-size="79.26" font-style="italic" font-family='"Liberation Serif", serif' style="stroke-width:0.5px">r</text>
<line x1="1372" y1="1955" x2="1399" y2="1955" stroke="#000" stroke-width="3.2"/>
<text transform="translate(1687.14 2056.50) scale(1.1396 1.0000)" font-size="68.49" style="stroke-width:0.4px">τ</text>
<text transform="translate(1719.65 2075.00) scale(1.1531 1.0000)" font-size="40.62" style="stroke-width:0.4px">c</text>
<rect x="1668" y="2079" width="85" height="51" fill="#000" rx="4"/>
<line x1="1672.7" y1="2128" x2="1672.7" y2="3006" stroke="#000" stroke-width="8.6" stroke-dasharray="62.5 24" stroke-dashoffset="46.5"/>
<line x1="1749" y1="2128" x2="1749" y2="3006" stroke="#000" stroke-width="8.6" stroke-dasharray="62.5 24" stroke-dashoffset="46.5"/>
<path d="M250 2019.3 L1042 2156.9" fill="none" stroke="#000" stroke-width="8.0" stroke-dasharray="32.5 22.6"/>
<path d="M1072.5 2160 L1227.5 2187.5" fill="none" stroke="#000" stroke-width="8.0" />
<path d="M1277.5 2195 L1427 2221.5" fill="none" stroke="#000" stroke-width="8.0" />
<path d="M1448.2 2221.8 C1450.6 2222.1 1457.8 2222.8 1462.6 2223.5 C1467.3 2224.2 1472.1 2225.1 1476.8 2226.0 C1481.6 2227.0 1486.3 2228.1 1490.9 2229.3 C1495.5 2230.5 1500.1 2231.8 1504.7 2233.3 C1509.2 2234.8 1513.7 2236.4 1518.1 2238.2 C1522.5 2239.9 1526.9 2241.8 1531.1 2243.8 C1535.4 2245.8 1539.5 2248.0 1543.6 2250.2 C1547.7 2252.5 1551.7 2254.9 1555.5 2257.5 C1559.4 2260.1 1563.2 2262.7 1566.8 2265.6 C1570.5 2268.4 1574.0 2271.4 1577.4 2274.5 C1580.8 2277.6 1584.1 2280.8 1587.2 2284.2 C1590.4 2287.5 1593.4 2291.0 1596.3 2294.6 C1599.3 2298.2 1602.1 2301.9 1604.8 2305.7 C1607.5 2309.5 1610.1 2313.4 1612.6 2317.3 C1615.2 2321.3 1617.6 2325.3 1619.9 2329.4 C1622.3 2333.5 1624.6 2337.7 1626.7 2341.9 C1628.9 2346.1 1631.0 2350.4 1633.1 2354.7 C1635.1 2359.0 1637.1 2363.4 1639.0 2367.8 C1641.0 2372.1 1642.8 2376.5 1644.6 2380.9 C1646.4 2385.3 1648.2 2389.8 1649.9 2394.2 C1651.6 2398.6 1653.3 2403.0 1654.9 2407.5 C1656.6 2411.9 1658.2 2416.4 1659.7 2420.8 C1661.3 2425.3 1662.8 2429.8 1664.3 2434.2 C1665.7 2438.7 1667.2 2443.2 1668.6 2447.7 C1670.0 2452.2 1671.4 2456.7 1672.8 2461.2 C1674.2 2465.7 1675.5 2470.2 1676.8 2474.7 C1678.2 2479.2 1679.5 2483.7 1680.7 2488.2 C1682.0 2492.7 1683.3 2497.2 1684.6 2501.8 C1685.8 2506.3 1687.1 2510.8 1688.3 2515.4 C1689.6 2519.9 1690.8 2524.4 1692.0 2529.0 C1693.2 2533.5 1694.5 2538.0 1695.7 2542.6 C1696.9 2547.1 1698.2 2551.6 1699.4 2556.2 C1700.6 2560.7 1701.9 2565.2 1703.1 2569.8 C1704.3 2574.3 1705.6 2578.9 1706.8 2583.4 C1708.1 2587.9 1709.3 2592.5 1710.6 2597.0 C1711.8 2601.5 1713.1 2606.1 1714.3 2610.6 C1715.6 2615.2 1716.8 2619.7 1718.1 2624.2 C1719.4 2628.8 1720.6 2633.3 1721.9 2637.9 C1723.1 2642.4 1724.4 2646.9 1725.6 2651.5 C1726.9 2656.0 1728.2 2660.6 1729.4 2665.1 C1730.7 2669.6 1731.9 2674.2 1733.2 2678.7 C1734.5 2683.3 1735.7 2687.8 1737.0 2692.4 C1738.2 2696.9 1739.5 2701.5 1740.7 2706.0 C1742.0 2710.5 1743.2 2715.1 1744.5 2719.6 C1745.7 2724.2 1747.0 2728.7 1748.2 2733.3 C1749.4 2737.8 1750.7 2742.4 1751.9 2746.9 C1753.1 2751.5 1754.4 2756.0 1755.6 2760.6 C1756.8 2765.1 1758.0 2769.7 1759.2 2774.3 C1760.5 2778.8 1761.7 2783.4 1762.9 2787.9 C1764.1 2792.5 1765.3 2797.0 1766.5 2801.6 C1767.7 2806.2 1768.9 2810.7 1770.0 2815.3 C1771.2 2819.8 1772.4 2824.4 1773.6 2829.0 C1774.7 2833.5 1775.9 2838.1 1777.0 2842.7 C1778.2 2847.2 1779.3 2851.8 1780.5 2856.4 C1781.6 2860.9 1782.7 2865.5 1783.9 2870.1 C1785.0 2874.6 1786.1 2879.2 1787.2 2883.8 C1788.3 2888.4 1789.4 2892.9 1790.5 2897.5 C1791.6 2902.1 1792.6 2906.7 1793.7 2911.3 C1794.8 2915.8 1796.3 2922.7 1796.9 2925.0" fill="none" stroke="#000" stroke-width="8.0" />
<path d="M1812 2975 L1836 3053" fill="none" stroke="#000" stroke-width="8.0" />
<line x1="282.5" y1="2023.5" x2="307.5" y2="2023.5" stroke="#000" stroke-width="8.8"/>
<line x1="295" y1="2011.0" x2="295" y2="2036.0" stroke="#000" stroke-width="8.8"/>
<line x1="1043.5" y1="2176.5" x2="1068.5" y2="2176.5" stroke="#000" stroke-width="8.8"/>
<line x1="1056" y1="2164.0" x2="1056" y2="2189.0" stroke="#000" stroke-width="8.8"/>
<line x1="1241.0" y1="2181" x2="1266.0" y2="2181" stroke="#000" stroke-width="8.8"/>
<line x1="1253.5" y1="2168.5" x2="1253.5" y2="2193.5" stroke="#000" stroke-width="8.8"/>
<line x1="1420.5" y1="2241.5" x2="1445.5" y2="2241.5" stroke="#000" stroke-width="8.8"/>
<line x1="1433" y1="2229.0" x2="1433" y2="2254.0" stroke="#000" stroke-width="8.8"/>
<line x1="1601.0" y1="2248.5" x2="1626.0" y2="2248.5" stroke="#000" stroke-width="8.8"/>
<line x1="1613.5" y1="2236.0" x2="1613.5" y2="2261.0" stroke="#000" stroke-width="8.8"/>
</g>
</g>
<defs><filter id="soft" x="0" y="0" width="2004" height="3384" filterUnits="userSpaceOnUse" color-interpolation-filters="sRGB"><feGaussianBlur stdDeviation="0.9"/></filter></defs>
</svg>
</body>
</html>
